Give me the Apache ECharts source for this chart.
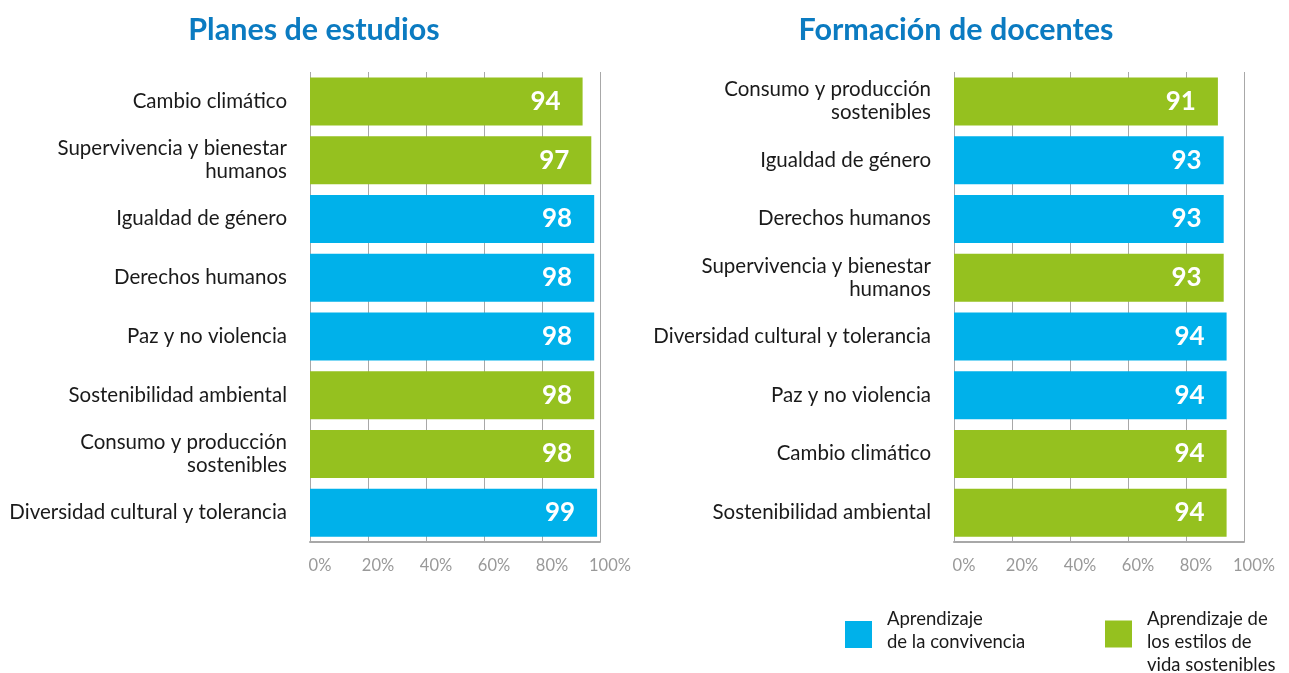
<!DOCTYPE html>
<html>
<head>
<meta charset="utf-8">
<title>Planes de estudios / Formación de docentes</title>
<script src="https://cdn.jsdelivr.net/npm/echarts@6/dist/echarts.min.js"></script>
<style>
  html, body { margin: 0; padding: 0; background: #fff; }
  #main { width: 1289px; height: 673px; }
</style>
</head>
<body>
<div id="main"></div>
<script>
// c = Aprendizaje de la convivencia, v = Aprendizaje de los estilos de vida sostenibles
var planesCats = ['Cambio climático', 'Supervivencia y bienestar\nhumanos', 'Igualdad de género', 'Derechos humanos',
    'Paz y no violencia', 'Sostenibilidad ambiental', 'Consumo y producción\nsostenibles', 'Diversidad cultural y tolerancia'];
var planesVals = [94, 97, 98, 98, 98, 98, 98, 99];
var planesGroup = ['v', 'v', 'c', 'c', 'c', 'v', 'v', 'c'];

var formacionCats = ['Consumo y producción\nsostenibles', 'Igualdad de género', 'Derechos humanos', 'Supervivencia y bienestar\nhumanos',
    'Diversidad cultural y tolerancia', 'Paz y no violencia', 'Cambio climático', 'Sostenibilidad ambiental'];
var formacionVals = [91, 93, 93, 93, 94, 94, 94, 94];
var formacionGroup = ['v', 'c', 'c', 'v', 'c', 'c', 'v', 'v'];

var xTicks = [0, 20, 40, 60, 80, 100];

var nameC = 'Aprendizaje de la convivencia';
var nameV = 'Aprendizaje de los estilos de vida sostenibles';
var blue = '#00b1ea';
var green = '#95c11f';
var font = 'Lato';

function pick(vals, groups, g) {
    return vals.map(function (v, i) { return groups[i] === g ? v : '-'; });
}

function xAxisFor(idx) {
    return {
        type: 'value', gridIndex: idx, min: 0, max: 100, interval: 20,
        axisLine: { show: true, lineStyle: { color: '#a8a8a8', width: 2 } },
        axisTick: { show: false },
        splitLine: { show: true, lineStyle: { color: '#a8a8a8', width: 1 } },
        axisLabel: {
            color: '#999', fontFamily: font, fontSize: 16.5, margin: 15,
            padding: [0, 0, 0, 20],
            formatter: function (v) { return xTicks.indexOf(v) >= 0 ? v + '%' : ''; }
        }
    };
}

function yAxisFor(idx, cats) {
    return {
        type: 'category', gridIndex: idx, data: cats, inverse: true,
        axisLine: { show: false }, axisTick: { show: false },
        axisLabel: { color: '#1a1a1a', fontFamily: font, fontSize: 20.5, lineHeight: 23, margin: 23 }
    };
}

function barSeries(name, idx, data, color) {
    return {
        name: name, type: 'bar', stack: 'g' + idx, xAxisIndex: idx, yAxisIndex: idx,
        barWidth: 48, data: data,
        itemStyle: { color: color },
        label: {
            show: true, position: 'insideRight', distance: 22,
            color: '#fff', fontFamily: font, fontWeight: 'bold', fontSize: 26
        }
    };
}

var legendRich = {
    a: { color: '#1a1a1a', fontFamily: font, fontSize: 18.5, lineHeight: 23, padding: [0, 0, 0, 10] },
    s: { fontSize: 1, lineHeight: 7 },
    t: { fontSize: 1, lineHeight: 17 }
};

var myChart = echarts.init(document.getElementById('main'));
var option = {
    animation: false,
    backgroundColor: '#fff',
    title: [
        { text: 'Planes de estudios', left: 309, top: 10, textAlign: 'center',
          textStyle: { color: '#0b7bc1', fontFamily: font, fontWeight: 'bold', fontSize: 30.5 } },
        { text: 'Formación de docentes', left: 951, top: 10, textAlign: 'center',
          textStyle: { color: '#0b7bc1', fontFamily: font, fontWeight: 'bold', fontSize: 30.5 } }
    ],
    legend: [
        { data: [nameC], left: 845, top: 610, padding: 0, icon: 'rect', itemWidth: 27, itemHeight: 27,
          selectedMode: false,
          formatter: function () { return '{a|Aprendizaje}\n{a|de la convivencia}\n{s| }'; },
          textStyle: { rich: legendRich } },
        { data: [nameV], left: 1105, top: 599, padding: 0, icon: 'rect', itemWidth: 27, itemHeight: 27,
          selectedMode: false,
          formatter: function () { return '{t| }\n{a|Aprendizaje de}\n{a|los estilos de}\n{a|vida sostenibles}'; },
          textStyle: { rich: legendRich } }
    ],
    grid: [
        { left: 310, right: 689, top: 72, bottom: 131 },
        { left: 954, right: 45, top: 72, bottom: 131 }
    ],
    xAxis: [xAxisFor(0), xAxisFor(1)],
    yAxis: [yAxisFor(0, planesCats), yAxisFor(1, formacionCats)],
    series: [
        barSeries(nameC, 0, pick(planesVals, planesGroup, 'c'), blue),
        barSeries(nameV, 0, pick(planesVals, planesGroup, 'v'), green),
        barSeries(nameC, 1, pick(formacionVals, formacionGroup, 'c'), blue),
        barSeries(nameV, 1, pick(formacionVals, formacionGroup, 'v'), green)
    ]
};
myChart.setOption(option);
</script>
</body>
</html>
